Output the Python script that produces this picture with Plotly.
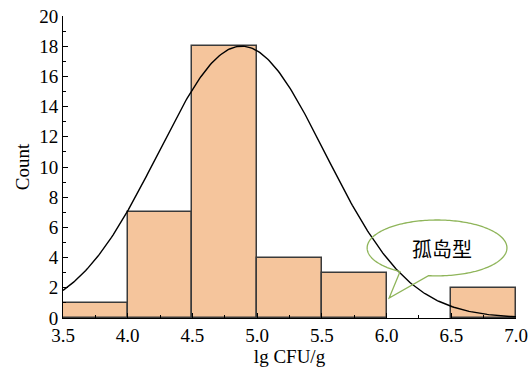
import numpy as np
import plotly.graph_objects as go

# Histogram data (lg CFU/g bins and counts)
bin_edges = [3.5, 4.0, 4.5, 5.0, 5.5, 6.0, 6.5, 7.0]
counts = [1, 7, 18, 4, 3, 0, 2]

# Normal-fit curve parameters
curve_mean = 4.88
curve_sd = 0.645
curve_peak = 18.0

x_ticks = [3.5, 4.0, 4.5, 5.0, 5.5, 6.0, 6.5, 7.0]
x_tick_labels = ["3.5", "4.0", "4.5", "5.0", "5.5", "6.0", "6.5", "7.0"]
y_ticks = [0, 2, 4, 6, 8, 10, 12, 14, 16, 18, 20]

callout_text = "孤岛型"

centers = [(a + b) / 2 for a, b in zip(bin_edges[:-1], bin_edges[1:])]
widths = [b - a for a, b in zip(bin_edges[:-1], bin_edges[1:])]
line_widths = [1.5 if c > 0 else 0 for c in counts]

fig = go.Figure()
fig.add_trace(go.Bar(
    x=centers, y=counts, width=widths,
    marker=dict(color="#f5c59c", line=dict(color="#3a3a3a", width=line_widths)),
    showlegend=False, hoverinfo="skip",
))

xc = np.linspace(bin_edges[0], bin_edges[-1], 300)
yc = curve_peak * np.exp(-((xc - curve_mean) ** 2) / (2 * curve_sd ** 2))
fig.add_trace(go.Scatter(
    x=xc, y=yc, mode="lines",
    line=dict(color="black", width=1.4),
    showlegend=False, hoverinfo="skip",
))

# Speech-bubble callout (ellipse with tail), in data coordinates
cx, cy, a, b = 6.39, 4.64, 0.54, 1.85
tip = (6.02, 1.32)
t = np.radians(np.linspace(263, 598, 200))
ex = cx + a * np.cos(t)
ey = cy + b * np.sin(t)
path = "M " + " L ".join(f"{px:.4f},{py:.4f}" for px, py in zip(ex, ey))
path += f" L {tip[0]},{tip[1]} Z"
fig.add_shape(type="path", path=path, xref="x", yref="y",
              line=dict(color="#8fb55a", width=1.3), fillcolor="rgba(0,0,0,0)")
fig.add_annotation(x=6.43, y=4.6, xref="x", yref="y", text=callout_text,
                   showarrow=False,
                   font=dict(family="Noto Sans CJK SC", size=20, color="black"))

tick_font = dict(family="Liberation Serif", size=19, color="black")
title_font = dict(family="Liberation Serif", size=19, color="black")

axis_common = dict(
    showline=True, linecolor="black", linewidth=1,
    ticks="inside", ticklen=5, tickcolor="black", tickwidth=1,
    showgrid=False, zeroline=False, mirror=False, automargin=False,
    tickfont=tick_font,
)

fig.update_xaxes(
    range=[3.5, 7.0], tickvals=x_ticks, ticktext=x_tick_labels,
    minor=dict(ticks="inside", ticklen=3, dtick=0.25, tick0=3.5, tickcolor="black"),
    title=dict(text="lg CFU/g", font=title_font, standoff=4),
    **axis_common,
)
fig.update_yaxes(
    range=[0, 20], tickvals=y_ticks,
    minor=dict(ticks="inside", ticklen=3, dtick=1, tick0=0, tickcolor="black"),
    title=dict(text="Count", font=title_font, standoff=4),
    **axis_common,
)

fig.update_layout(
    width=531, height=376,
    margin=dict(l=63, r=15, t=16, b=58),
    paper_bgcolor="white", plot_bgcolor="white",
    bargap=0,
)

fig.write_html("out.html", config={"displayModeBar": False},
               post_script="document.body.style.margin='0';document.body.style.padding='0';")
